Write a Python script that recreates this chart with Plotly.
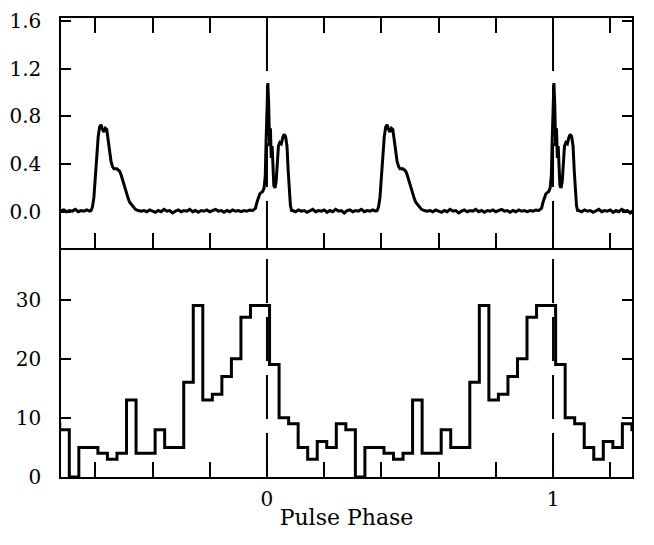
import plotly.graph_objects as go

# one rotation of the radio/optical pulse profile (phase, flux)
prof_phase = [-0.05, -0.045, -0.04, -0.035, -0.03, -0.025, -0.02, -0.015, -0.01, -0.006,
              -0.003, 0.0, 0.003, 0.006, 0.009, 0.012, 0.015, 0.018, 0.021, 0.024,
              0.028, 0.032, 0.036, 0.04, 0.045, 0.05, 0.055, 0.06, 0.065, 0.07,
              0.074, 0.078, 0.082, 0.086,
              0.09, 0.10, 0.11, 0.12, 0.13, 0.14, 0.15, 0.16, 0.17, 0.18,
              0.19, 0.20, 0.21, 0.22, 0.23, 0.24, 0.25, 0.26, 0.27, 0.28,
              0.29, 0.30, 0.31, 0.32, 0.33, 0.34, 0.35, 0.36, 0.37, 0.38,
              0.385, 0.39, 0.395, 0.40, 0.405, 0.41, 0.415, 0.42, 0.425, 0.43,
              0.435, 0.44, 0.445, 0.45, 0.455, 0.46, 0.465, 0.47, 0.475, 0.48,
              0.485, 0.49, 0.495, 0.50, 0.505, 0.51, 0.515, 0.52, 0.53, 0.54, 0.55,
              0.56, 0.57, 0.58, 0.59, 0.60, 0.61, 0.62, 0.63, 0.64, 0.65,
              0.66, 0.67, 0.68, 0.69, 0.70, 0.71, 0.72, 0.73, 0.74, 0.75,
              0.76, 0.77, 0.78, 0.79, 0.80, 0.81, 0.82, 0.83, 0.84, 0.85,
              0.86, 0.87, 0.88, 0.89, 0.90, 0.91, 0.92, 0.93, 0.94, 0.949]
prof_flux = [0.01, 0.02, 0.03, 0.08, 0.12, 0.15, 0.16, 0.17, 0.2, 0.3,
             0.6, 0.95, 1.08, 0.9, 0.55, 0.7, 0.45, 0.55, 0.3, 0.22,
             0.2, 0.25, 0.4, 0.55, 0.58, 0.57, 0.62, 0.65, 0.63, 0.55,
             0.35, 0.15, 0.05, 0.01,
             0.01, 0.0, 0.015, 0.005, 0.01, -0.005, 0.01, 0.02, 0.0, 0.01,
             0.005, 0.015, -0.005, 0.01, 0.0, 0.02, 0.005, 0.01, -0.01, 0.01,
             0.015, 0.0, 0.01, 0.005, 0.02, 0.0, 0.01, 0.005, 0.015, 0.005,
             0.01, 0.04, 0.12, 0.32, 0.5, 0.63, 0.71, 0.73, 0.69, 0.67,
             0.70, 0.69, 0.60, 0.50, 0.42, 0.38, 0.36, 0.36, 0.36, 0.35,
             0.34, 0.31, 0.27, 0.22, 0.17, 0.14, 0.11, 0.08, 0.05, 0.02, 0.01,
             0.005, 0.01, 0.0, 0.015, 0.005, -0.005, 0.01, 0.0, 0.02, 0.005,
             0.01, -0.01, 0.005, 0.015, 0.0, 0.01, 0.005, 0.02, 0.0, 0.01,
             -0.005, 0.01, 0.005, 0.015, 0.0, 0.01, 0.02, 0.005, 0.01, -0.005,
             0.01, 0.0, 0.015, 0.005, 0.01, 0.0, 0.01, 0.005, 0.015, 0.01]

# gamma-ray counts, 30 phase bins per rotation
counts = [19, 10, 9, 5, 3, 6, 5, 9, 8, 0, 5, 5, 4, 3, 4,
          13, 4, 4, 8, 5, 5, 16, 29, 13, 14, 17, 20, 27, 29, 29]
bin_start = 0.009
x_tickvals = [-0.6, -0.4, -0.2, 0, 0.2, 0.4, 0.6, 0.8, 1, 1.2]
x_ticktext = ["", "", "", "0", "", "", "", "", "1", ""]

# show the profile over several rotations
cycles = [-1, 0, 1]
px, py = [], []
for c in cycles:
    px += [p + c for p in prof_phase]
    py += prof_flux

hx, hy = [], []
nb = len(counts)
for c in cycles:
    for k, v in enumerate(counts):
        hx.append(c + bin_start + k / nb)
        hy.append(v)
hx.append(cycles[-1] + 1 + bin_start)
hy.append(counts[0])

fig = go.Figure()
fig.add_trace(go.Scatter(x=px, y=py, mode="lines", xaxis="x2", yaxis="y2",
                         line=dict(color="black", width=3), showlegend=False))
fig.add_trace(go.Scatter(x=hx, y=hy, mode="lines", xaxis="x", yaxis="y",
                         line=dict(color="black", width=3, shape="hv"),
                         showlegend=False))

for xv in [0, 1]:
    fig.add_shape(type="line", xref="x", yref="paper", x0=xv, x1=xv, y0=0, y1=1,
                  line=dict(color="black", width=2, dash="44px,14px"))

font = dict(family="DejaVu Serif", size=20, color="black")
axis_common = dict(showline=True, linecolor="black", linewidth=1.5,
                   ticks="inside", tickcolor="black", tickwidth=1.5,
                   showgrid=False, zeroline=False, tickfont=font, automargin=False,
                   ticklabeloverflow="allow")

# page body has an 8px margin, so the figure is sized to land on the 654x545 frame
fig.update_layout(
    width=646, height=537,
    margin=dict(l=53, r=22, t=10, b=68),
    plot_bgcolor="white", paper_bgcolor="white",
    font=font,
    xaxis=dict(axis_common, domain=[0, 1], anchor="y", range=[-0.72, 1.276],
               tickmode="array", tickvals=x_tickvals, ticktext=x_ticktext,
               ticklen=15, ticklabelstandoff=3,
               title=dict(text="Pulse Phase", standoff=0,
                          font=dict(family="DejaVu Serif", size=22))),
    yaxis=dict(axis_common, domain=[0, 0.5], anchor="x", range=[0, 38.8],
               tickvals=[0, 10, 20, 30], ticklen=10, mirror="ticks",
               ticklabelstandoff=14),
    xaxis2=dict(axis_common, domain=[0, 1], anchor="y2", matches="x",
                tickmode="array", tickvals=x_tickvals, showticklabels=False,
                ticklen=15, mirror="ticks"),
    yaxis2=dict(axis_common, domain=[0.5, 1], anchor="x2", range=[-0.3, 1.625],
                tickvals=[0, 0.4, 0.8, 1.2, 1.6], tickformat=".1f",
                ticklen=10, mirror="ticks", ticklabelstandoff=14),
)

fig.write_html("out.html")
